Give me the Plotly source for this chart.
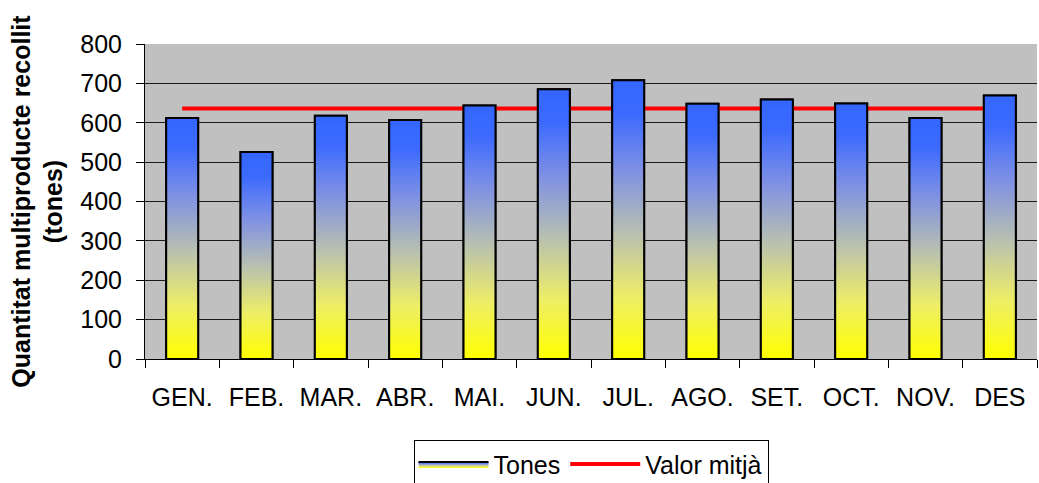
"""
Quantitat mensual de multiproducte recollit amb el valor mitjà
"""
import plotly.graph_objects as go

# Dades llegides del gràfic
mesos = ["GEN.", "FEB.", "MAR.", "ABR.", "MAI.", "JUN.", "JUL.", "AGO.", "SET.", "OCT.", "NOV.", "DES"]
tones = [612, 526, 618, 607, 644, 685, 708, 648, 659, 649, 612, 669]
valor_mitja = sum(tones) / len(tones)

FONT = "Liberation Sans, Arial, sans-serif"
AMPLE_BARRA = 0.43
# degradat groc (base) -> blau (dalt), com el farciment d'Excel
degradat = [
    [0.0, "#FFFF00"],
    [0.22, "#EEEE66"],
    [0.45, "#B8C0B0"],
    [0.68, "#7E90E4"],
    [0.88, "#3C6AFF"],
    [1.0, "#3366FF"],
]

fig = go.Figure()

# barres: contorn sobre l'eix de categories
fig.add_trace(go.Bar(
    x=mesos, y=tones,
    width=AMPLE_BARRA,
    marker=dict(color="rgba(0,0,0,0)", line=dict(color="black", width=2)),
    showlegend=False,
    hovertemplate="%{x}<br>%{y} t<extra></extra>",
))

# farciment amb degradat de cada barra (eix x2 numèric, mateix rang)
for i, v in enumerate(tones):
    x0, x1 = i - AMPLE_BARRA / 2, i + AMPLE_BARRA / 2
    fig.add_trace(go.Scatter(
        x=[x0, x0, x1, x1, x0], y=[0, v, v, 0, 0],
        xaxis="x2",
        mode="lines",
        fill="toself",
        fillgradient=dict(type="vertical", colorscale=degradat),
        line=dict(color="black", width=2),
        name="Tones",
        legendgroup="tones",
        showlegend=(i == 0),
        hoverinfo="skip",
    ))

# línia del valor mitjà
fig.add_trace(go.Scatter(
    x=mesos, y=[valor_mitja] * len(mesos),
    mode="lines",
    name="Valor mitjà",
    line=dict(color="#FF0000", width=4),
    hovertemplate="Valor mitjà: %{y:.0f}<extra></extra>",
))

fig.update_layout(
    width=1039, height=483,
    margin=dict(l=145, r=2, t=44, b=124, autoexpand=False),
    paper_bgcolor="white",
    plot_bgcolor="#C0C0C0",
    font=dict(family=FONT, size=25, color="black"),
    barmode="overlay",
    xaxis=dict(
        type="category",
        range=[-0.5, 11.5],
        automargin=False,
        showgrid=False,
        showline=True, linecolor="black", linewidth=1,
        ticks="outside", tickson="boundaries", ticklen=8, tickcolor="black",
        ticklabelstandoff=16,
        tickfont=dict(size=25),
    ),
    xaxis2=dict(overlaying="x", range=[-0.5, 11.5], visible=False, automargin=False),
    yaxis=dict(
        range=[0, 800], dtick=100,
        automargin=False,
        showgrid=True, gridcolor="#1a1a1a", gridwidth=1,
        zeroline=False,
        showline=True, linecolor="black", linewidth=1,
        ticks="outside", ticklen=8, tickcolor="black",
        ticklabelstandoff=9,
        tickfont=dict(size=25),
        title=dict(
            text="Quantitat multiproducte recollit<br>(tones)",
            font=dict(size=25, family=FONT, weight="bold"),
            standoff=10,
        ),
    ),
    legend=dict(
        orientation="h",
        x=0.5, xanchor="center",
        y=-0.258, yanchor="top",
        bordercolor="black", borderwidth=1,
        font=dict(size=25),
        bgcolor="white",
        itemwidth=70,
    ),
    showlegend=True,
)

# sense el marge per defecte del <body>
fig.write_html(
    "out.html",
    config={"displayModeBar": False},
    post_script="document.body.style.margin = '0';",
)
